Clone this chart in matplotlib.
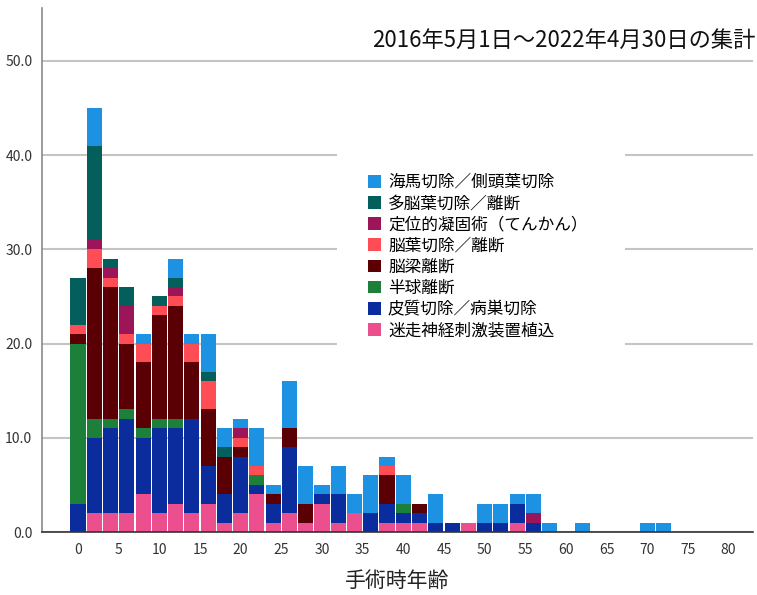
# -*- coding: utf-8 -*-
import numpy as np
import matplotlib
matplotlib.use('Agg')
import matplotlib.pyplot as plt
from matplotlib.patches import Rectangle

plt.rcParams['font.family'] = ['Noto Sans CJK JP', 'DejaVu Sans']

#---- data ----
ages = list(range(0, 74, 2))   # 2-year bins

vns       = [0,2,2,2,4,2,3,2,3,1, 2,4,1,2,1,3,1,2,0,1, 1,1,0,0,1,0,0,1,0,0, 0,0,0,0,0,0,0]
cortical  = [3,8,9,10,6,9,8,10,4,3, 6,1,2,7,0,1,3,0,2,2, 1,1,1,1,0,1,1,2,1,0, 0,0,0,0,0,0,0]
hemi      = [17,2,1,1,1,1,1,0,0,0, 0,1,0,0,0,0,0,0,0,0, 1,0,0,0,0,0,0,0,0,0, 0,0,0,0,0,0,0]
callosal  = [1,16,14,7,7,11,12,6,6,4, 1,0,1,2,2,0,0,0,0,3, 0,1,0,0,0,0,0,0,0,0, 0,0,0,0,0,0,0]
lobar     = [1,2,1,1,2,1,1,2,3,0, 1,1,0,0,0,0,0,0,0,1, 0,0,0,0,0,0,0,0,0,0, 0,0,0,0,0,0,0]
stereo    = [0,1,1,3,0,0,1,0,0,0, 1,0,0,0,0,0,0,0,0,0, 0,0,0,0,0,0,0,0,1,0, 0,0,0,0,0,0,0]
multilobe = [5,10,1,2,0,1,1,0,1,1, 0,0,0,0,0,0,0,0,0,0, 0,0,0,0,0,0,0,0,0,0, 0,0,0,0,0,0,0]
hippo     = [0,4,0,0,1,0,2,1,4,2, 1,4,1,5,4,1,3,2,4,1, 3,0,3,0,0,2,2,1,2,1, 0,1,0,0,0,1,1]

# bottom -> top stacking order
series = [
    ('迷走神経刺激装置植込', vns, '#EC4F8E'),
    ('皮質切除／病巣切除', cortical, '#0A2C9C'),
    ('半球離断', hemi, '#1C7F3A'),
    ('脳梁離断', callosal, '#5A0004'),
    ('脳葉切除／離断', lobar, '#FF4D55'),
    ('定位的凝固術（てんかん）', stereo, '#9C1558'),
    ('多脳葉切除／離断', multilobe, '#035E5C'),
    ('海馬切除／側頭葉切除', hippo, '#1E92E2'),
]

#---- plot ----
fig = plt.figure(figsize=(7.57, 5.95), dpi=100)
ax = fig.add_axes([42/757, 63/595, 711/757, 524/595])

bottom = np.zeros(len(ages))
handles = []
for name, vals, col in series:
    b = ax.bar(ages, vals, width=1.86, bottom=bottom, color=col,
               edgecolor='none', label=name, zorder=2)
    handles.append(b)
    bottom += np.array(vals)

ax.set_xlim(-4.43, 83.0)
ax.set_ylim(0, 55.6)
ax.set_xticks(range(0, 85, 5))
ax.set_yticks(range(0, 60, 10))
ax.set_yticklabels(['%.1f' % v for v in range(0, 60, 10)])
ax.tick_params(axis='both', length=0, labelsize=10, colors='#333333')
ax.tick_params(axis='x', pad=8)
ax.tick_params(axis='y', pad=7)

ax.grid(axis='y', color='#C4C4C4', linewidth=1.5)
ax.set_axisbelow(True)
for s in ['top', 'right']:
    ax.spines[s].set_visible(False)
ax.spines['left'].set_color('#8A8A8A')
ax.spines['left'].set_linewidth(1.2)
ax.spines['bottom'].set_color('#333333')
ax.spines['bottom'].set_linewidth(1.2)

ax.set_xlabel('手術時年齢', fontsize=15, labelpad=9, color='#222222')

# white background behind the legend (hides the grid there)
ax.add_patch(Rectangle((0.415, 0.353), 0.405, 0.376, transform=ax.transAxes,
                       facecolor='white', edgecolor='none', zorder=1))

leg = ax.legend(handles=handles[::-1], loc='upper left',
                bbox_to_anchor=(368/757, 1 - 174/595), bbox_transform=fig.transFigure,
                frameon=False, fontsize=12, handlelength=0.8, handleheight=0.8,
                handletextpad=0.4, labelspacing=0.25, borderpad=0, borderaxespad=0)

# title kept whole inside the figure
fig.text(372/757, 1 - 40/595, '2016年5月1日～2022年4月30日の集計',
         fontsize=16, va='center', ha='left', color='#111111')

fig.savefig('out.png', dpi=100)
